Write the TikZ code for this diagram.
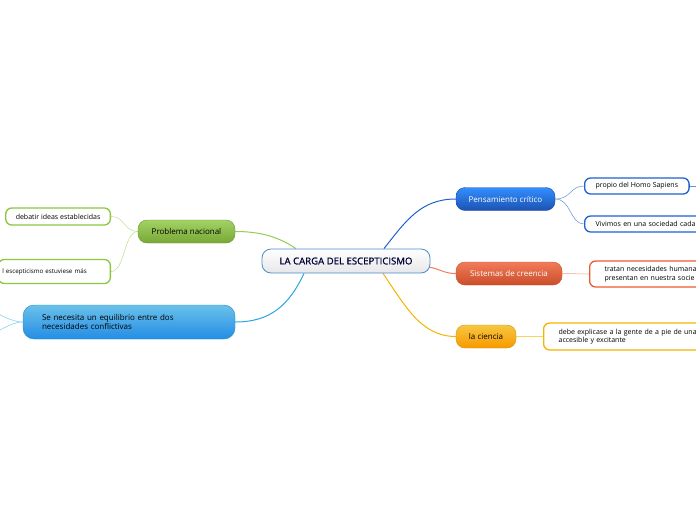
\documentclass[tikz,border=0pt]{standalone}
\usepackage{fontspec}
\setmainfont{Open Sans}
\newfontfamily\heavyfont[FakeBold=0.8]{Open Sans}
\usepackage{tikz}
\usetikzlibrary{calc,backgrounds}

\definecolor{cenline}{HTML}{4A8AD0}
\definecolor{pensblue}{HTML}{2060D0}
\definecolor{sistred}{HTML}{EE5A30}
\definecolor{ciengold}{HTML}{F5B400}
\definecolor{probgreen}{HTML}{8CC63F}
\definecolor{equicyan}{HTML}{2AA6E0}

\tikzset{
  central/.style={draw=cenline, line width=0.8pt, rounded corners=9pt,
    top color=white, bottom color=blue!6!gray!18, text=black!80!blue,
    minimum height=24pt, minimum width=168pt, inner sep=0pt,
    font=\heavyfont\fontsize{9.6}{11}\selectfont},
  branch/.style={rounded corners=9pt, minimum height=23pt, inner sep=0pt,
    font=\fontsize{8}{9.5}\selectfont},
  leaf/.style={draw, fill=white, line width=1.3pt, rounded corners=6pt,
    inner xsep=11pt, inner ysep=3pt, align=left,
    font=\fontsize{7}{8.6}\selectfont},
  link/.style={line width=1pt},
  sublink/.style={line width=0.5pt},
}

\begin{document}
\begin{tikzpicture}[x=1pt,y=-1pt]
\useasboundingbox (0,0) rectangle (696,520);
\clip (0,0) rectangle (696,520);

% main topic
\node[central] (cen) at (346,261) {LA CARGA DEL ESCEPTICISMO};

% right side
\node[branch, top color=blue!55!cyan!80!white, bottom color=pensblue!85!black, draw=pensblue!80!black,
  text=white, minimum width=99pt] (pens) at (505.5,199) {Pensamiento crítico};
\node[branch, top color=sistred!80!white, bottom color=sistred!85!black, draw=sistred!85!black,
  text=white, minimum width=106pt] (sist) at (509,273.5) {Sistemas de creencia};
\node[branch, top color=ciengold!75!white, bottom color=ciengold!85!red, draw=ciengold!85!black,
  text=black, minimum width=60pt] (cien) at (486,336.5) {la ciencia};

\node[leaf, draw=pensblue, anchor=west, minimum height=16pt] (prop) at (584,186) {propio del Homo Sapiens};
\node[leaf, draw=pensblue, anchor=west, minimum height=16pt, text width=120pt] (vivi) at (584,224) {Vivimos en una sociedad cada};
\node[leaf, draw=sistred, anchor=west, minimum height=26pt, text width=120pt, inner xsep=15pt] (trat) at (589,274)
  {tratan necesidades humana\\presentan en nuestra socie};
\node[leaf, draw=ciengold, anchor=west, minimum height=27pt, text width=160pt, inner xsep=15pt] (debe) at (543,336.5)
  {debe explicase a la gente de a pie de una\\accesible y excitante};

% left side
\node[branch, top color=probgreen!80!white, bottom color=probgreen!85!black, draw=probgreen!75!black,
  text=black, minimum width=97pt] (prob) at (186.5,231.5) {Problema nacional};
\node[branch, top color=equicyan!70!white, bottom color=equicyan!85!blue, draw=equicyan!85!black,
  text=black, minimum width=212pt, minimum height=34pt, text width=174pt, align=left,
  rounded corners=11pt] (equi) at (129,322)
  {Se necesita un equilibrio entre dos\\necesidades conflictivas};

\node[leaf, draw=probgreen, anchor=east, minimum height=17pt, inner xsep=10pt] (deba) at (111,216.5) {debatir ideas establecidas};
\node[leaf, draw=probgreen, anchor=east, minimum height=24pt, text width=104pt, inner xsep=4pt,
  font=\fontsize{6.2}{8}\selectfont] (esce) at (111,271.5)
  {l escepticismo estuviese más};

\coordinate (homo) at (730,186);
\coordinate (eqa) at (-25,306);
\coordinate (eqb) at (-25,340);

\begin{scope}[on background layer]
\draw[link, pensblue] ($(cen.north)+(38,0)$) .. controls +(22,-28) and +(-35,0) .. (pens.west);
\draw[link, sistred!80!white] ($(cen.east)+(-2,6)$) .. controls +(12,2) and +(-12,0) .. (sist.west);
\draw[link, ciengold] ($(cen.south)+(37,0)$) .. controls +(22,32) and +(-35,0) .. (cien.west);
\draw[link, probgreen!90!white] ($(cen.north)+(-50,0)$) .. controls +(-18,-12) and +(25,0) .. (prob.east);
\draw[link, equicyan] ($(cen.south)+(-42,0)$) .. controls +(-15,32) and +(35,0) .. (equi.east);

\draw[sublink, pensblue!70!white] (pens.east) .. controls +(16,0) and +(-14,0) .. (prop.west);
\draw[sublink, pensblue!70!white] (pens.east) .. controls +(16,0) and +(-14,0) .. (vivi.west);
\draw[sublink, sistred!60!white] (sist.east) .. controls +(12,0) and +(-12,0) .. (trat.west);
\draw[sublink, ciengold!60!white] (cien.east) .. controls +(12,0) and +(-12,0) .. (debe.west);
\draw[sublink, probgreen!60!white] (prob.west) .. controls +(-14,0) and +(14,0) .. (deba.east);
\draw[sublink, probgreen!60!white] (prob.west) .. controls +(-14,0) and +(14,0) .. (esce.east);
\draw[sublink, equicyan!60!white] (equi.west) .. controls +(-16,0) and +(14,0) .. (eqa);
\draw[sublink, equicyan!60!white] (equi.west) .. controls +(-16,0) and +(14,0) .. (eqb);
\draw[sublink, pensblue!70!white] (prop.east) -- (homo);
\end{scope}
\end{tikzpicture}
\end{document}
